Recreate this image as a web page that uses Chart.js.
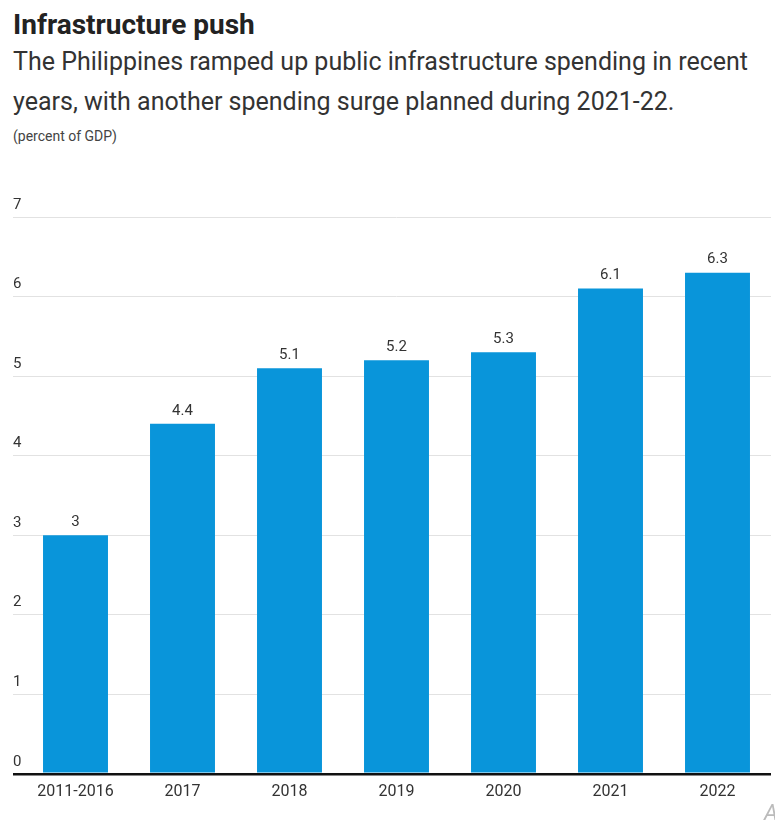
<!DOCTYPE html>
<html>
<head>
<meta charset="utf-8">
<script src="https://cdn.jsdelivr.net/npm/chart.js@4/dist/chart.umd.min.js"></script>
<style>
  html, body { margin: 0; padding: 0; background: #fff; }
  body { width: 775px; height: 822px; position: relative; overflow: hidden;
         font-family: Roboto, 'Liberation Sans', sans-serif; }
  #title { position: absolute; left: 13px; top: 7px; font-size: 28px; font-weight: bold; color: #222; line-height: 36px; white-space: nowrap; }
  #subtitle { position: absolute; left: 13px; top: 42px; font-size: 25px; color: #333; line-height: 40px; white-space: nowrap; }
  #unit { position: absolute; left: 13px; top: 128px; font-size: 14px; color: #444; line-height: 16px; }
  #logo { position: absolute; left: 764px; top: 800px; font-size: 22px; font-style: italic; color: #bbb; }
  #wrap { position: absolute; left: 0; top: 160px; width: 775px; height: 662px; }
</style>
</head>
<body>
<div id="title">Infrastructure push</div>
<div id="subtitle">The Philippines ramped up public infrastructure spending in recent<br>years, with another spending surge planned during 2021-22.</div>
<div id="unit">(percent of GDP)</div>
<div id="wrap"><canvas id="chart"></canvas></div>
<div id="logo">A</div>
<script>
const categories = ['2011-2016', '2017', '2018', '2019', '2020', '2021', '2022'];
const spending = [3, 4.4, 5.1, 5.2, 5.3, 6.1, 6.3];
const yTicks = [0, 1, 2, 3, 4, 5, 6, 7];

const FONT = "Roboto, 'Liberation Sans', sans-serif";

// Writes each bar's value just above its top edge
const valueLabels = {
  id: 'valueLabels',
  afterDatasetsDraw(chart) {
    const ctx = chart.ctx;
    const meta = chart.getDatasetMeta(0);
    ctx.save();
    ctx.font = '15px ' + FONT;
    ctx.fillStyle = '#333';
    ctx.textAlign = 'center';
    ctx.textBaseline = 'middle';
    meta.data.forEach((bar, i) => {
      ctx.fillText(String(chart.data.datasets[0].data[i]), bar.x, bar.y - 13);
    });
    ctx.restore();
  }
};

// Places the y tick labels above their gridlines, flush with the line's left end
const yLabelsAbove = {
  id: 'yLabelsAbove',
  afterDraw(chart) {
    const scale = chart.scales.y;
    const ctx = chart.ctx;
    ctx.save();
    ctx.font = '15px ' + FONT;
    ctx.fillStyle = '#333';
    ctx.textAlign = 'left';
    ctx.textBaseline = 'middle';
    scale.ticks.forEach(t => {
      ctx.fillText(String(t.value), scale.left, scale.getPixelForValue(t.value) - 12);
    });
    ctx.restore();
  }
};

new Chart(document.getElementById('chart'), {
  type: 'bar',
  data: {
    labels: categories,
    datasets: [{
      data: spending,
      backgroundColor: '#0995da',
      borderWidth: 0,
      categoryPercentage: 1,
      barPercentage: 0.607
    }]
  },
  options: {
    responsive: true,
    maintainAspectRatio: false,
    animation: false,
    layout: { padding: { left: 13, right: 4, top: 57, bottom: 19 } },
    plugins: { legend: { display: false }, tooltip: { enabled: false } },
    scales: {
      x: {
        grid: { display: false },
        border: { display: false },
        ticks: { color: '#333', font: { family: FONT, size: 16 }, padding: 1, maxRotation: 0 }
      },
      y: {
        min: 0,
        max: 7,
        afterBuildTicks(axis) { axis.ticks = yTicks.map(v => ({ value: v })); },
        border: { display: false },
        grid: {
          drawTicks: true,
          tickLength: 9,
          color: c => (c.tick && c.tick.value === 0) ? '#111' : '#e2e2e2',
          lineWidth: c => (c.tick && c.tick.value === 0) ? 2.5 : 1
        },
        ticks: { display: false }
      }
    }
  },
  plugins: [valueLabels, yLabelsAbove]
});
</script>
</body>
</html>
